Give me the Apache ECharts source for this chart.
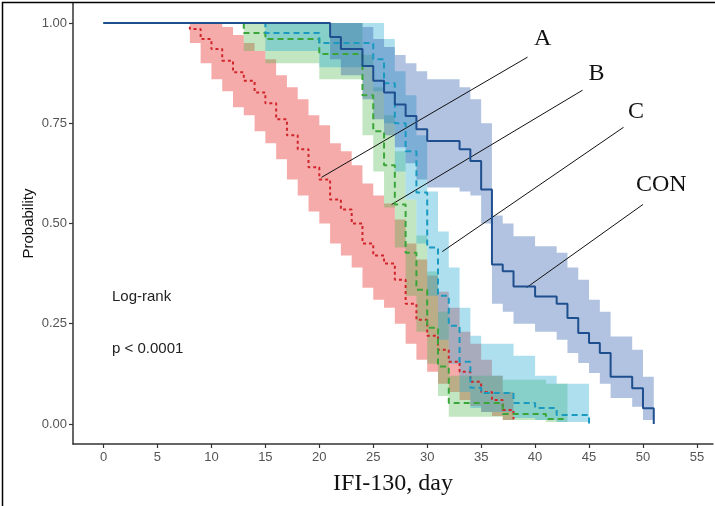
<!DOCTYPE html>
<html>
<head>
<meta charset="utf-8">
<script src="https://cdn.jsdelivr.net/npm/echarts@6/dist/echarts.min.js"></script>
<style>
  html, body { margin: 0; padding: 0; background: #fff; }
  #km_chart { width: 715px; height: 506px; }
</style>
</head>
<body>
<div id="km_chart"></div>
<script>
// group A (red, dotted)
var tA  = [0, 8, 9, 10, 11, 12, 13, 14, 15, 16, 17, 18, 19, 20, 21, 22, 23, 24, 25, 26, 27, 28, 29, 30, 31, 32, 33, 34, 35, 36, 37, 38];
var sA  = [1, .985, .96, .935, .906, .877, .856, .827, .80, .76, .72, .685, .64, .61, .56, .535, .50, .45, .42, .40, .36, .30, .26, .22, .185, .155, .13, .105, .08, .06, .035, .012];
var loA = [1, .95, .90, .86, .83, .79, .77, .73, .70, .66, .61, .57, .53, .50, .45, .42, .39, .34, .31, .29, .25, .20, .16, .13, .10, .08, .06, .045, .03, .02, .01, .002];
var hiA = [1, 1, 1, 1, .99, .97, .95, .93, .91, .87, .84, .81, .77, .745, .70, .68, .645, .60, .57, .55, .51, .45, .41, .37, .33, .29, .23, .20, .16, .12, .08, .035];

// group B (green, dashed)
var tB  = [0, 13, 15, 20, 24, 25, 26, 27, 28, 29, 30, 31, 32, 37, 41, 43];
var sB  = [1, .975, .96, .9225, .82, .73, .645, .5475, .427, .335, .24, .143, .0525, .025, .0125, .0125];
var loB = [1, .93, .90, .86, .72, .63, .54, .44, .32, .23, .15, .07, .018, .01, .005, .005];
var hiB = [1, 1, 1, 1, .92, .84, .77, .68, .56, .47, .38, .28, .12, .11, .10, .10];

// group C (cyan, dashed)
var tC  = [0, 15, 20, 25, 26, 27, 28, 29, 30, 31, 32, 33, 34, 35, 38, 40, 42, 45];
var sC  = [1, .975, .95, .91, .85, .75, .68, .5775, .44, .32, .245, .155, .09, .0775, .0525, .04, .0225, 0];
var loC = [1, .93, .89, .83, .75, .63, .56, .45, .32, .21, .15, .08, .04, .03, .015, .01, .005, 0];
var hiC = [1, 1, 1, 1, .96, .88, .82, .72, .58, .48, .39, .29, .22, .20, .17, .12, .10, 0];

// group CON (dark blue, solid)
var tD  = [0, 21, 22, 24, 25, 26, 27, 28, 29, 30, 33, 34, 35, 36, 37, 38, 40, 42, 43, 44, 45, 46, 47, 49, 50, 51];
var sD  = [1, .965, .935, .893, .856, .827, .797, .768, .735, .706, .685, .656, .585, .3975, .381, .343, .318, .30, .264, .227, .202, .177, .118, .089, .039, 0];
var loD = [1, .91, .87, .81, .76, .72, .69, .65, .61, .59, .58, .57, .50, .30, .28, .25, .23, .21, .177, .152, .127, .10, .065, .043, .01, 0];
var hiD = [1, 1, 1, .99, .96, .94, .92, .90, .88, .86, .84, .81, .75, .52, .50, .468, .443, .427, .39, .36, .31, .28, .218, .185, .118, 0];

var xTicks = [0, 5, 10, 15, 20, 25, 30, 35, 40, 45, 50, 55];
var yTicks = [0, 0.25, 0.5, 0.75, 1];

// annotation pointers (data coords) and their labels
var annNames = ['A', 'B', 'C', 'CON'];
var annFrom  = [[20.2, 0.615], [26.7, 0.5475], [31.4, 0.43], [39.2, 0.34]];
var annTo    = [[39.3, 0.915], [44.4, 0.8325], [48.2, 0.74], [50.0, 0.5475]];
var annText  = [[40.7, 0.96], [45.7, 0.8725], [49.35, 0.78], [51.7, 0.5975]];

function pairs(t, v) {
    return t.map(function (x, i) { return [x, v[i]]; });
}

// confidence band as one stepped polygon, drawn through the axes' scales
function bandSeries(t, lo, hi, color) {
    return {
        type: 'custom', silent: true,
        data: [[t[0], hi[0]]],
        renderItem: function (params, api) {
            var n = t.length, pts = [], i;
            for (i = 0; i < n; i++) {
                pts.push(api.coord([t[i], hi[i]]));
                if (i < n - 1) pts.push(api.coord([t[i + 1], hi[i]]));
            }
            for (i = n - 1; i >= 0; i--) {
                if (i < n - 1) pts.push(api.coord([t[i + 1], lo[i]]));
                pts.push(api.coord([t[i], lo[i]]));
            }
            return { type: 'polygon', shape: { points: pts }, style: { fill: color } };
        }
    };
}

function curveSeries(t, s, color, dash) {
    return {
        type: 'line', step: 'end', symbol: 'none', silent: true,
        lineStyle: { color: color, width: 2, type: dash },
        data: pairs(t, s)
    };
}

var series = [
    bandSeries(tA, loA, hiA, 'rgba(232,45,45,0.4)'),
    bandSeries(tB, loB, hiB, 'rgba(70,180,70,0.33)'),
    bandSeries(tC, loC, hiC, 'rgba(40,172,212,0.38)'),
    bandSeries(tD, loD, hiD, 'rgba(40,90,170,0.36)'),
    curveSeries(tA, sA, '#d0262b', [3, 3]),
    curveSeries(tB, sB, '#3aa63a', [6, 4]),
    curveSeries(tC, sC, '#1b9ac0', [6, 4]),
    curveSeries(tD, sD, '#1f4f8f', 'solid')
];

series.push({
    type: 'custom', silent: true,
    data: annFrom.map(function (f, i) { return [f[0], f[1], annTo[i][0], annTo[i][1]]; }),
    renderItem: function (params, api) {
        var p1 = api.coord([api.value(0), api.value(1)]);
        var p2 = api.coord([api.value(2), api.value(3)]);
        return {
            type: 'line',
            shape: { x1: p1[0], y1: p1[1], x2: p2[0], y2: p2[1] },
            style: { stroke: '#111', lineWidth: 1 }
        };
    }
});

series.push({
    type: 'custom', silent: true,
    data: annText.map(function (p) { return [p[0], p[1]]; }),
    renderItem: function (params, api) {
        var p = api.coord([api.value(0), api.value(1)]);
        return {
            type: 'text', x: p[0], y: p[1],
            style: {
                text: annNames[params.dataIndex],
                fontFamily: 'Liberation Serif', fontSize: 24,
                fill: '#111', align: 'center', verticalAlign: 'middle'
            }
        };
    }
});

var option = {
    animation: false,
    backgroundColor: '#fff',
    grid: { left: 73, right: 2, top: 3, bottom: 62 },
    xAxis: {
        type: 'value', min: -2.83, max: 56.49,
        name: 'IFI-130, day', nameLocation: 'middle', nameGap: 28,
        nameTextStyle: { fontFamily: 'Liberation Serif', fontSize: 24, color: '#111' },
        axisLine: { show: true, onZero: false, lineStyle: { color: '#333', width: 1.5 } },
        axisTick: { show: true, length: 4, customValues: xTicks, lineStyle: { color: '#333', width: 1.2 } },
        axisLabel: { customValues: xTicks, margin: 7, color: '#555', fontSize: 13, fontFamily: 'Liberation Sans' },
        splitLine: { show: false }
    },
    yAxis: {
        type: 'value', min: -0.05, max: 1.05,
        name: 'Probability', nameLocation: 'middle', nameGap: 37, nameRotate: 90,
        nameMoveOverlap: false,
        nameTextStyle: { fontFamily: 'Liberation Sans', fontSize: 15, color: '#111' },
        axisLine: { show: true, onZero: false, lineStyle: { color: '#333', width: 1.5 } },
        axisTick: { show: true, length: 4, customValues: yTicks, lineStyle: { color: '#333', width: 1.2 } },
        axisLabel: {
            customValues: yTicks, margin: 6, color: '#555', fontSize: 13, fontFamily: 'Liberation Sans',
            formatter: function (v) { return v.toFixed(2); }
        },
        splitLine: { show: false }
    },
    graphic: [
        { type: 'text', left: 112, top: 289, style: { text: 'Log-rank', fontFamily: 'Liberation Sans', fontSize: 15, fill: '#222' } },
        { type: 'text', left: 112, top: 341, style: { text: 'p < 0.0001', fontFamily: 'Liberation Sans', fontSize: 15, fill: '#222' } },
        { type: 'rect', left: 0, top: 0, silent: true, z: 100,
          shape: { width: 714, height: 505 }, style: { fill: 'none', stroke: '#000', lineWidth: 1.5 } }
    ],
    series: series
};

var km_chart = echarts.init(document.getElementById('km_chart'));
km_chart.setOption(option);
</script>
</body>
</html>
